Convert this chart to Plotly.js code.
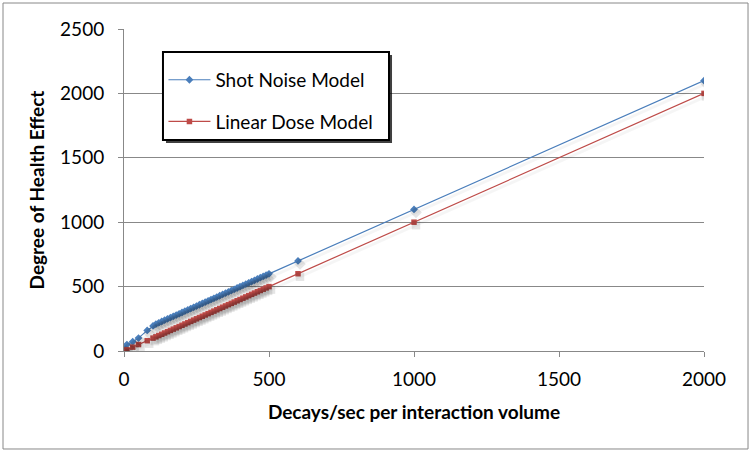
<!DOCTYPE html>
<html>
<head>
<meta charset="utf-8">
<script src="https://cdn.plot.ly/plotly-3.0.1.min.js"></script>
<style>html,body{margin:0;padding:0;background:#fff;}#chart{width:752px;height:453px;}</style>
</head>
<body>
<div id="chart"></div>
<script>
// Decays/sec per interaction volume
const decays = [0, 10, 30, 50, 80, 100, 110, 120, 130, 140, 150, 160, 170, 180, 190, 200,
  210, 220, 230, 240, 250, 260, 270, 280, 290, 300, 310, 320, 330, 340, 350, 360, 370, 380, 390, 400,
  410, 420, 430, 440, 450, 460, 470, 480, 490, 500, 600, 1000, 2000];
// Shot Noise Model
const shotNoise = [20, 50, 72, 100, 160, 195, 208, 219, 229, 239, 249, 259, 269, 279, 289, 299,
  309, 319, 329, 339, 349, 359, 369, 379, 389, 399, 409, 419, 429, 439, 449, 459, 469, 479, 489, 499,
  509, 519, 529, 539, 549, 559, 569, 579, 589, 599, 699, 1099, 2099];
// Linear Dose Model
const linearDose = [0, 10, 30, 50, 80, 100, 110, 120, 130, 140, 150, 160, 170, 180, 190, 200,
  210, 220, 230, 240, 250, 260, 270, 280, 290, 300, 310, 320, 330, 340, 350, 360, 370, 380, 390, 400,
  410, 420, 430, 440, 450, 460, 470, 480, 490, 500, 600, 1000, 2000];

const xTicks = [0, 500, 1000, 1500, 2000];
const yTicks = [0, 500, 1000, 1500, 2000, 2500];

const font = 'Lato, "Open Sans", "Liberation Sans", sans-serif';
const FS = 19;

// soft drop-shadow copies drawn on a slightly shifted overlay axis pair
const shadow = (y, sym, sz) => ({x: decays, y: y, type: 'scatter', mode: 'lines+markers',
  xaxis: 'x2', yaxis: 'y2', showlegend: false, hoverinfo: 'skip',
  line: {color: 'rgba(0,0,0,0.04)', width: 3},
  marker: {symbol: sym, size: sz + 3, color: 'rgba(0,0,0,0.10)'}});

const traces = [
  shadow(shotNoise, 'diamond', 6),
  shadow(linearDose, 'square', 5.5),
  {x: decays, y: shotNoise, name: 'Shot Noise Model', type: 'scatter', mode: 'lines+markers',
   legendgroup: 'a',
   line: {color: '#4A7EBB', width: 1.2}, marker: {symbol: 'diamond', size: 6, color: '#4A7EBB'}},
  {x: decays, y: linearDose, name: 'Linear Dose Model', type: 'scatter', mode: 'lines+markers',
   legendgroup: 'b',
   line: {color: '#BE4B48', width: 1.2}, marker: {symbol: 'square', size: 5.5, color: '#BE4B48'}}
];

const pxX = 2000 / 580, pxY = 2500 / 322;
const layout = {
  width: 752, height: 453,
  margin: {l: 124, r: 48, t: 29, b: 102},
  paper_bgcolor: '#fff', plot_bgcolor: 'rgba(0,0,0,0)',
  font: {family: font, size: FS, color: '#000'},
  showlegend: true,
  legend: {x: 0.068, y: 0.901, xanchor: 'left', yanchor: 'top',
    bgcolor: 'rgba(0,0,0,0)', borderwidth: 0, itemwidth: 42,
    font: {family: font, size: FS, color: '#000'},
    traceorder: 'grouped', tracegroupgap: 14},
  xaxis: {range: [0, 2000], tickvals: xTicks, ticks: 'outside', ticklen: 5, tickcolor: '#888',
    showgrid: false, zeroline: false, showline: true, linecolor: '#888', linewidth: 1,
    tickfont: {size: FS}, ticklabelstandoff: 6, fixedrange: true,
    title: {text: '<b>Decays/sec per interaction volume</b>', font: {size: FS}, standoff: 16}},
  yaxis: {range: [0, 2500], tickvals: yTicks, ticks: 'outside', ticklen: 5, tickcolor: '#888',
    showgrid: true, gridcolor: '#888', gridwidth: 1, zeroline: false,
    showline: true, linecolor: '#888', linewidth: 1,
    tickfont: {size: FS}, ticklabelstandoff: 10, fixedrange: true,
    title: {text: '<b>Degree of Health Effect</b>', font: {size: FS}, standoff: 10}},
  xaxis2: {overlaying: 'x', range: [-2 * pxX, 2000 - 2 * pxX], visible: false, fixedrange: true},
  yaxis2: {overlaying: 'y', range: [3 * pxY, 2500 + 3 * pxY], visible: false, fixedrange: true},
  shapes: [
    {type: 'rect', xref: 'paper', yref: 'paper', x0: -0.2086, x1: 1.0759, y0: -0.3043, y1: 1.0807,
     line: {color: '#888', width: 1}, layer: 'below'},
    // legend frame shadow
    {type: 'rect', xref: 'paper', yref: 'paper', x0: 0.0724, x1: 0.4621, y0: 0.6460, y1: 0.9193,
     fillcolor: 'rgba(0,0,0,0.75)', line: {width: 0}, layer: 'above'},
    // legend frame
    {type: 'rect', xref: 'paper', yref: 'paper', x0: 0.0672, x1: 0.4569, y0: 0.6553, y1: 0.9286,
     fillcolor: '#fff', line: {color: '#000', width: 2}, layer: 'above'}
  ]
};

Plotly.newPlot('chart', traces, layout, {displayModeBar: false, staticPlot: true});
</script>
</body>
</html>
